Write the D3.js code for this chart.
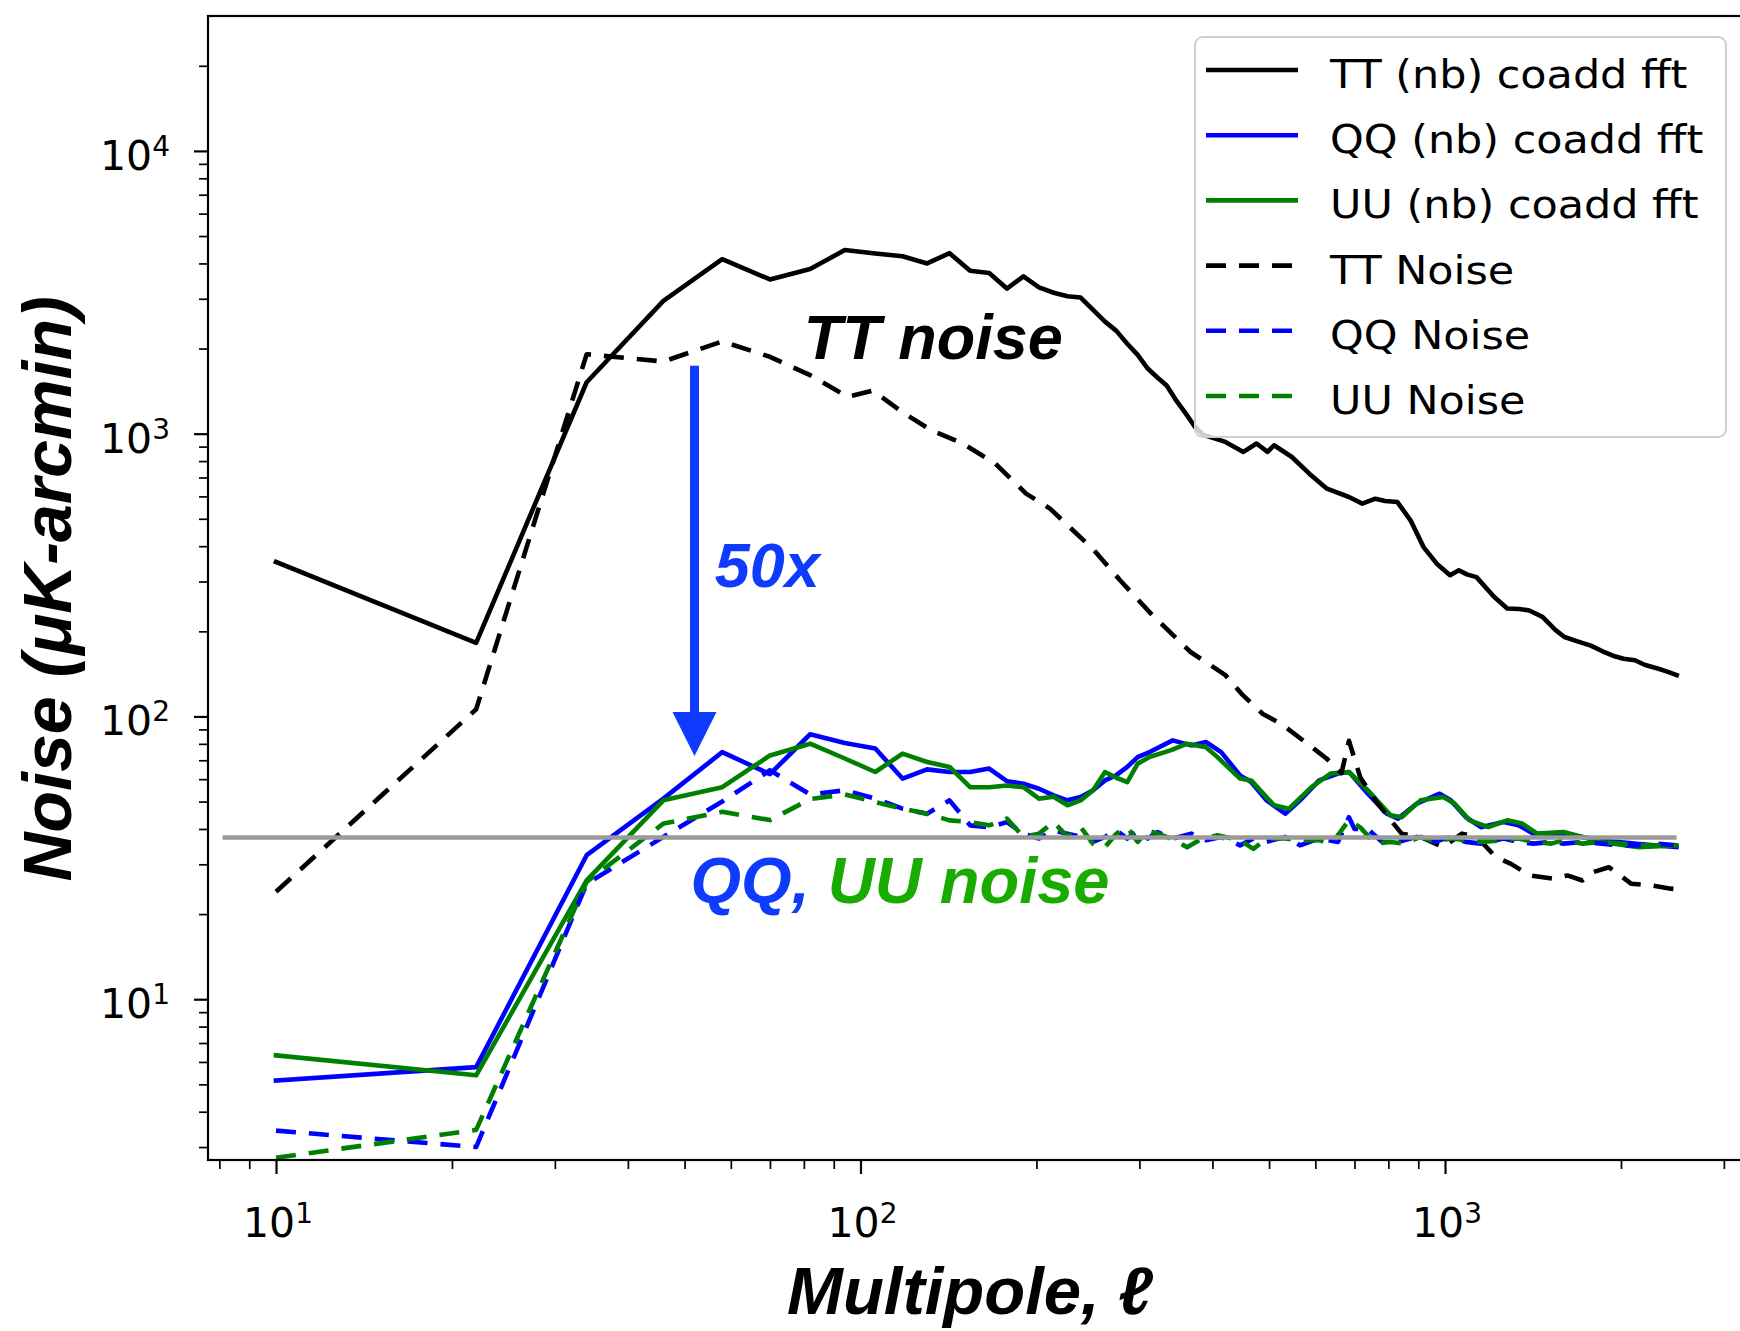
<!DOCTYPE html>
<html>
<head>
<meta charset="utf-8">
<script src="https://cdn.jsdelivr.net/npm/d3@7"></script>
<style>
  html, body { margin: 0; padding: 0; background: #ffffff; }
  svg { display: block; }
</style>
</head>
<body>
<svg id="chart" width="1740" height="1331"></svg>
<script>
// ---- Noise spectra (multipole ell vs noise level in uK-arcmin) ----
const ttCoaddEll = [10, 22, 34, 46, 58, 70, 82, 94, 106, 118, 130, 142, 154, 166, 178, 190, 202, 214, 226, 238,
  250, 262, 274, 286, 298, 310, 322, 334, 346, 360, 373, 386, 421, 452, 476, 497, 510, 547, 586, 628, 685, 722,
  760, 790, 829, 873, 919, 968, 1020, 1056, 1090, 1132, 1213, 1278, 1340, 1394, 1468, 1546, 1601, 1690, 1776,
  1860, 1937, 2020, 2113, 2200, 2304, 2400, 2491];
const ttCoaddVal = [352, 182, 1520, 2950, 4140, 3510, 3820, 4460, 4340, 4240, 4000, 4350, 3770, 3700, 3260, 3600,
  3290, 3150, 3060, 3030, 2740, 2490, 2310, 2080, 1900, 1700, 1580, 1480, 1320, 1180, 1060, 990, 935, 862, 923,
  862, 910, 827, 722, 639, 597, 566, 589, 578, 573, 494, 397, 347, 316, 329, 318, 311, 265, 241, 240, 237, 225,
  202, 191, 184, 178, 170, 164, 160, 158, 152, 148, 144, 140];

const qqCoaddEll = [10, 22, 34, 46, 58, 70, 82, 94, 106, 118, 130, 142, 154, 166, 178, 190, 202, 214, 226, 238,
  250, 262, 274, 286, 298, 313, 342, 368, 390, 414, 446, 466, 495, 533, 565, 609, 656, 685, 738, 795, 831, 895,
  979, 1023, 1085, 1152, 1259, 1336, 1417, 1595, 1851, 2146, 2489];
const qqCoaddVal = [5.16, 5.75, 32.3, 51.2, 74.8, 62.5, 86.5, 80.5, 77, 60.3, 65, 63.6, 63.6, 65.4, 59, 57.8,
  55.5, 52.6, 50.5, 51.9, 54.8, 59.4, 62, 66.3, 71.8, 75, 82.3, 79, 81.2, 74.8, 61.9, 58.6, 50.5, 45.3, 50.5,
  59.4, 62.8, 63.6, 53.3, 45.3, 43.5, 49.2, 53.3, 50.5, 44.1, 40.6, 42.3, 41.2, 38.5, 38.5, 36.5, 35.4, 34.5];

const uuCoaddEll = [10, 22, 34, 46, 58, 70, 82, 94, 106, 118, 130, 142, 154, 166, 178, 190, 202, 214, 226, 238,
  250, 262, 274, 286, 298, 313, 340, 362, 390, 408, 446, 466, 510, 541, 591, 637, 685, 738, 807, 843, 908, 993,
  1038, 1102, 1186, 1278, 1356, 1438, 1595, 1851, 2146, 2489];
const uuCoaddVal = [6.33, 5.38, 26.3, 50.5, 56.2, 72.8, 80.1, 71, 63.6, 73.9, 69, 66.3, 56.2, 56.2, 57, 56.2,
  51.2, 52, 48.5, 50.5, 54.8, 63.6, 60.7, 58.6, 68.1, 72, 76, 80.1, 77.8, 71.8, 60.3, 59.4, 48.5, 47.2, 56.2,
  62.8, 63.6, 54.8, 44.7, 44, 50.5, 51.9, 49.2, 42.9, 40.6, 42.9, 41.8, 38.5, 39, 36, 34.5, 35];

const ttNoiseEll = [10, 22, 34, 46, 58, 70, 82, 95, 105, 118, 132, 150, 170, 192, 211, 251, 278, 314, 367, 421,
  449, 488, 525, 582, 627, 665, 685, 716, 760, 807, 843, 908, 993, 1069, 1134, 1222, 1297, 1396, 1526, 1620,
  1718, 1797, 1907, 1993, 2084, 2244, 2435, 2491];
const ttNoiseVal = [24, 106, 1910, 1800, 2120, 1870, 1610, 1350, 1420, 1190, 1030, 920, 785, 614, 543, 387, 303,
  231, 169, 140, 120, 102, 94, 80, 71, 63, 82, 61, 50.5, 43, 38.5, 37.5, 34.5, 38.5, 37.5, 31.8, 30.1, 27.4,
  26.7, 27.4, 26.3, 28.2, 29.3, 27.4, 25.6, 25.3, 24.6, 24.5];

const qqNoiseEll = [10, 22, 34, 46, 58, 70, 82, 94, 106, 118, 130, 142, 154, 166, 178, 190, 202, 214, 226, 238,
  250, 262, 274, 286, 298, 310, 322, 342, 368, 390, 414, 446, 470, 495, 533, 565, 609, 656, 685, 700, 738, 780,
  831, 895, 960, 1023, 1085, 1152, 1259, 1336, 1417, 1520, 1595, 1720, 1851, 2000, 2146, 2300, 2489];
const qqNoiseVal = [3.43, 3.0, 25.6, 37.5, 50, 64.5, 53, 54.8, 51.2, 47.2, 45.3, 50.5, 41.2, 40.6, 42.3, 38.5,
  37, 39.5, 38.5, 37.5, 36, 37.5, 39.5, 37, 39.5, 37, 39, 37, 38.5, 36.5, 37.5, 35, 37, 36, 37.5, 35, 37, 36,
  44, 40, 40, 36, 36, 37.5, 36, 37.5, 36, 35.5, 37, 36, 35.5, 36, 35.5, 36, 35.5, 35, 35, 35.5, 35];

const uuNoiseEll = [10, 22, 34, 46, 58, 70, 82, 94, 106, 118, 130, 142, 154, 166, 178, 190, 202, 214, 226, 238,
  250, 262, 274, 286, 298, 310, 322, 340, 362, 380, 408, 446, 470, 495, 533, 565, 609, 640, 685, 716, 760, 807,
  850, 908, 960, 1023, 1085, 1152, 1259, 1336, 1417, 1520, 1595, 1720, 1851, 2000, 2146, 2300, 2489];
const uuNoiseVal = [2.75, 3.45, 26, 41.8, 46, 43, 51, 53, 49.8, 47.2, 45.3, 42.9, 42.3, 41.2, 43.5, 37.5, 38.5,
  42.3, 37.5, 40.6, 35.4, 34.5, 38.5, 40.6, 36, 39.5, 38.5, 37, 34.5, 36.5, 38, 36.5, 34, 37, 37, 36.5, 36.5,
  35.5, 43, 40.5, 35.5, 36, 35.5, 37.5, 36, 37, 36.5, 36, 36.5, 37, 36, 35.5, 36.5, 35.5, 36, 35.5, 35, 35, 35];

// white-noise reference level for polarization
const polRefEll = [8.1, 2490];
const polRefVal = [37.3, 37.3];

// axis ticks
const xMajorExps = [1, 2, 3];
const yMajorExps = [1, 2, 3, 4];

// legend entries, in plotting order
const seriesNames = ["TT (nb) coadd fft", "QQ (nb) coadd fft", "UU (nb) coadd fft", "TT Noise", "QQ Noise", "UU Noise"];
const seriesColors = ["#000000", "#0000ff", "#008000", "#000000", "#0000ff", "#008000"];
const seriesDashed = [false, false, false, true, true, true];

// ---- layout ----
const plot = { left: 208, right: 1746, top: 16, bottom: 1160 };
const DASH = "20,13";
const LW = 4.6;

const svg = d3.select("#chart");

const x = d3.scaleLog().domain([7.65, 3273]).range([plot.left, plot.right]);
const y = d3.scaleLog().domain([2.7, 30000]).range([plot.bottom, plot.top]);

svg.append("defs").append("clipPath").attr("id", "plotClip")
  .append("rect")
  .attr("x", plot.left).attr("y", plot.top)
  .attr("width", plot.right - plot.left).attr("height", plot.bottom - plot.top);

// ---- axes ----
function logMinors(lo, hi) {
  const out = [];
  for (let e = Math.floor(Math.log10(lo)); e <= Math.ceil(Math.log10(hi)); e++) {
    for (let m = 2; m <= 9; m++) {
      const v = m * Math.pow(10, e);
      if (v >= lo * 1.001 && v <= hi * 0.995) out.push(v);
    }
  }
  return out;
}
const xMajor = xMajorExps.map(e => Math.pow(10, e));
const yMajor = yMajorExps.map(e => Math.pow(10, e));

const axisStyle = (g, width) => {
  g.select(".domain").remove();
  g.selectAll(".tick line").attr("stroke", "#000").attr("stroke-width", width);
  g.selectAll(".tick text").remove();
};

svg.append("g").attr("transform", `translate(0,${plot.bottom})`)
  .call(d3.axisBottom(x).tickValues(logMinors(...x.domain())).tickSize(9).tickFormat(""))
  .call(g => axisStyle(g, 1.7));
svg.append("g").attr("transform", `translate(0,${plot.bottom})`)
  .call(d3.axisBottom(x).tickValues(xMajor).tickSize(14).tickFormat(""))
  .call(g => axisStyle(g, 2.2));
svg.append("g").attr("transform", `translate(${plot.left},0)`)
  .call(d3.axisLeft(y).tickValues(logMinors(...y.domain())).tickSize(9).tickFormat(""))
  .call(g => axisStyle(g, 1.7));
svg.append("g").attr("transform", `translate(${plot.left},0)`)
  .call(d3.axisLeft(y).tickValues(yMajor).tickSize(14).tickFormat(""))
  .call(g => axisStyle(g, 2.2));

// power-of-ten tick labels
const tickFont = "'DejaVu Sans', sans-serif";
function powLabel(sel, exp) {
  sel.append("tspan").text("10");
  sel.append("tspan").attr("dy", -14).attr("font-size", 28).text(exp);
}
xMajorExps.forEach(e => {
  svg.append("text")
    .attr("x", x(Math.pow(10, e)) + 2).attr("y", 1237)
    .attr("text-anchor", "middle")
    .attr("font-family", tickFont).attr("font-size", 41).attr("fill", "#000")
    .call(powLabel, e);
});
yMajorExps.forEach(e => {
  svg.append("text")
    .attr("x", 170).attr("y", y(Math.pow(10, e)) + 19)
    .attr("text-anchor", "end")
    .attr("font-family", tickFont).attr("font-size", 41).attr("fill", "#000")
    .call(powLabel, e);
});

// ---- series ----
const line = d3.line().x(d => x(d[0])).y(d => y(d[1]));
const zipSeries = (ells, vals) => ells.map((l, i) => [l, vals[i]]);
const series = [
  zipSeries(ttCoaddEll, ttCoaddVal),
  zipSeries(qqCoaddEll, qqCoaddVal),
  zipSeries(uuCoaddEll, uuCoaddVal),
  zipSeries(ttNoiseEll, ttNoiseVal),
  zipSeries(qqNoiseEll, qqNoiseVal),
  zipSeries(uuNoiseEll, uuNoiseVal)
];

const gLines = svg.append("g").attr("clip-path", "url(#plotClip)");
series.forEach((pts, i) => {
  gLines.append("path")
    .datum(pts)
    .attr("d", line)
    .attr("fill", "none")
    .attr("stroke", seriesColors[i])
    .attr("stroke-width", LW)
    .attr("stroke-linejoin", "round")
    .attr("stroke-linecap", seriesDashed[i] ? "butt" : "square")
    .attr("stroke-dasharray", seriesDashed[i] ? DASH : null);
});

// reference level
gLines.append("path")
  .datum(zipSeries(polRefEll, polRefVal))
  .attr("d", line)
  .attr("fill", "none")
  .attr("stroke", "#9a9a9a")
  .attr("stroke-width", 4.5);

// frame
svg.append("rect")
  .attr("x", plot.left).attr("y", plot.top)
  .attr("width", plot.right - plot.left).attr("height", plot.bottom - plot.top)
  .attr("fill", "none").attr("stroke", "#000").attr("stroke-width", 2.2);

// ---- legend ----
const lg = svg.append("g");
lg.append("rect")
  .attr("x", 1195).attr("y", 37).attr("width", 531).attr("height", 400)
  .attr("rx", 8).attr("ry", 8)
  .attr("fill", "#ffffff").attr("fill-opacity", 0.8)
  .attr("stroke", "#cfcfcf").attr("stroke-width", 2);
seriesNames.forEach((name, i) => {
  const cy = 70 + i * 65.2;
  lg.append("line")
    .attr("x1", 1206).attr("x2", 1298).attr("y1", cy).attr("y2", cy)
    .attr("stroke", seriesColors[i]).attr("stroke-width", LW)
    .attr("stroke-dasharray", seriesDashed[i] ? DASH : null);
  lg.append("text")
    .attr("transform", `translate(1330,${cy + 18}) scale(1.1,1)`)
    .attr("font-family", tickFont).attr("font-size", 39).attr("fill", "#000")
    .text(name);
});

// ---- annotations ----
const annFont = "'Liberation Sans', Arial, Helvetica, sans-serif";
const blueAnn = "#0f3bff", greenAnn = "#19ab00";

svg.append("text")
  .attr("x", x(80)).attr("y", y(1837))
  .attr("font-family", annFont).attr("font-weight", "bold").attr("font-style", "italic")
  .attr("font-size", 63).attr("fill", "#000")
  .text("TT noise");

// 50x suppression arrow
const arrowEll = 52, arrowFrom = 1740, arrowTo = 72.5;
const ax = x(arrowEll), ay0 = y(arrowFrom), ay1 = y(arrowTo);
const headLen = 44, headHalf = 22;
svg.append("line")
  .attr("x1", ax).attr("x2", ax).attr("y1", ay0).attr("y2", ay1 - headLen + 2)
  .attr("stroke", blueAnn).attr("stroke-width", 9);
svg.append("path")
  .attr("d", `M${ax - headHalf},${ay1 - headLen} L${ax + headHalf},${ay1 - headLen} L${ax},${ay1} Z`)
  .attr("fill", blueAnn);

svg.append("text")
  .attr("x", x(56.3)).attr("y", y(288))
  .attr("font-family", annFont).attr("font-weight", "bold").attr("font-style", "italic")
  .attr("font-size", 63).attr("fill", blueAnn)
  .text("50x");

const qu = svg.append("text")
  .attr("x", x(51.2)).attr("y", y(21.9))
  .attr("font-family", annFont).attr("font-weight", "bold").attr("font-style", "italic")
  .attr("font-size", 65);
qu.append("tspan").attr("fill", blueAnn).text("QQ, ");
qu.append("tspan").attr("fill", greenAnn).text("UU noise");

// ---- axis titles ----
svg.append("text")
  .attr("transform", "translate(71,589) rotate(-90)")
  .attr("text-anchor", "middle")
  .attr("font-family", annFont).attr("font-weight", "bold").attr("font-style", "italic")
  .attr("font-size", 68).attr("fill", "#000")
  .text("Noise (μK-arcmin)");

svg.append("text")
  .attr("x", 970).attr("y", 1314)
  .attr("text-anchor", "middle")
  .attr("font-family", annFont).attr("font-weight", "bold").attr("font-style", "italic")
  .attr("font-size", 67).attr("fill", "#000")
  .text("Multipole, ℓ");
</script>
</body>
</html>
